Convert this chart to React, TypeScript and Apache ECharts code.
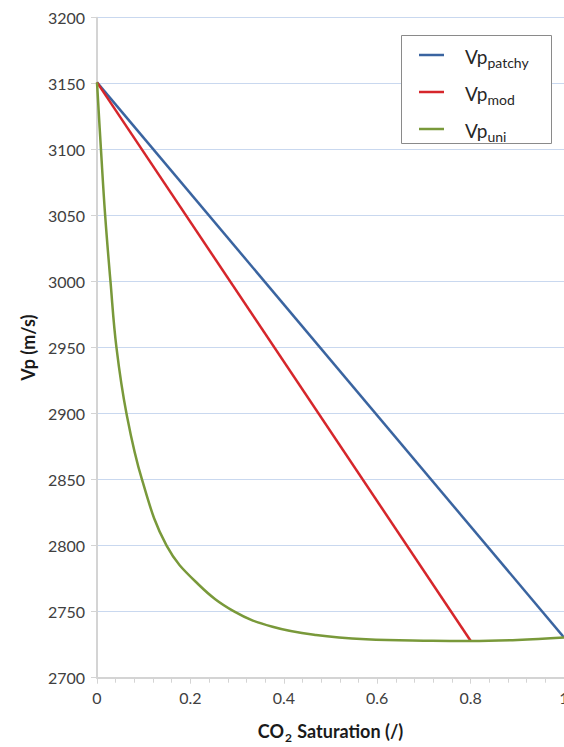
import React, { useEffect, useRef } from "react";
import * as echarts from "echarts";

// CO2 saturation (fraction) and P-wave velocity (m/s)
const satPatchy = [0, 1];
const vpPatchy = [3151, 2730.5];

const satMod = [0, 0.8];
const vpMod = [3151, 2728];

const satUni = [
  0, 0.0085, 0.0175, 0.0289, 0.0417, 0.0632, 0.0964, 0.149, 0.2163,
  0.2944, 0.3758, 0.469, 0.576, 0.718, 0.8, 0.9, 1.0,
];
const vpUni = [
  3151, 3100, 3050, 3000, 2950, 2900, 2850, 2800, 2771,
  2750, 2738.6, 2732.3, 2729.1, 2728, 2727.8, 2728.6, 2730.5,
];

const seriesNames = ["patchy", "mod", "uni"];
const seriesColors = ["#3a64a0", "#d6262b", "#79993a"];

const yTicks = { min: 2700, max: 3200, step: 50 };
const xTicks = { min: 0, max: 1, step: 0.2 };

const FONT = "Lato, 'Open Sans', sans-serif";

const zip = (xs: number[], ys: number[]) => xs.map((x, i) => [x, ys[i]]);

export default function App() {
  const ref = useRef<HTMLDivElement>(null);

  useEffect(() => {
    if (!ref.current) return;
    const chart = echarts.init(ref.current, undefined, { renderer: "svg" });
    const datasets = [zip(satPatchy, vpPatchy), zip(satMod, vpMod), zip(satUni, vpUni)];

    chart.setOption({
      animation: false,
      backgroundColor: "#ffffff",
      textStyle: { fontFamily: FONT },
      grid: {
        left: 97,
        right: 0,
        top: 17.7,
        bottom: 69.3,
        containLabel: false,
        outerBoundsMode: "none",
      },
      xAxis: {
        type: "value",
        min: xTicks.min,
        max: xTicks.max,
        interval: xTicks.step,
        name: "{m|CO}{s|2}{m| Saturation (/)}",
        nameLocation: "middle",
        nameGap: 40,
        nameTextStyle: {
          rich: {
            m: { fontSize: 18, fontWeight: "bold", color: "#1a1a1a", fontFamily: FONT, lineHeight: 22, verticalAlign: "bottom" },
            s: { fontSize: 12, fontWeight: "bold", color: "#1a1a1a", fontFamily: FONT, lineHeight: 14, verticalAlign: "bottom", padding: [0, 1, -4, 1] },
          },
        },
        axisLine: { show: true, lineStyle: { color: "#d4d4d4", width: 2 } },
        axisTick: { show: true, length: 6, lineStyle: { color: "#d4d4d4", width: 1 } },
        minorTick: { show: true, splitNumber: 5, length: 5, lineStyle: { color: "#d4d4d4", width: 1 } },
        axisLabel: {
          color: "#404040",
          fontSize: 16,
          margin: 12,
          fontFamily: FONT,
          showMaxLabel: true,
          formatter: (v: number) => String(Math.round(v * 10) / 10),
        },
        splitLine: { show: false },
      },
      yAxis: {
        type: "value",
        min: yTicks.min,
        max: yTicks.max,
        interval: yTicks.step,
        name: "Vp (m/s)",
        nameLocation: "middle",
        nameGap: 57,
        nameTextStyle: { fontSize: 18, fontWeight: "bold", color: "#1a1a1a", fontFamily: FONT },
        axisLine: { show: true, lineStyle: { color: "#d4d4d4", width: 2 } },
        axisTick: { show: true, length: 6, lineStyle: { color: "#d4d4d4", width: 1 } },
        axisLabel: {
          color: "#404040",
          fontSize: 16,
          margin: 12,
          fontFamily: FONT,
          formatter: (v: number) => String(v),
        },
        splitLine: { show: true, lineStyle: { color: "#c9d8ef", width: 1 } },
      },
      graphic: [
        {
          type: "rect",
          z: 5,
          shape: { x: 401.5, y: 35.5, width: 150, height: 108 },
          style: { fill: "#ffffff", stroke: "#8a8a8a", lineWidth: 1 },
        },
      ],
      legend: {
        show: true,
        z: 10,
        left: 414,
        top: 42,
        orient: "vertical",
        itemWidth: 25,
        itemHeight: 20,
        itemGap: 15,
        icon: "path://M0,0 L25,0 L25,2.5 L0,2.5 Z",
        data: seriesNames.map((n) => ({ name: n })),
        formatter: (name: string) => `{v|Vp}{s|${name}}`,
        textStyle: {
          rich: {
            v: { fontSize: 19, color: "#262626", fontFamily: FONT, lineHeight: 22, verticalAlign: "bottom", padding: [0, 0, 0, 16] },
            s: { fontSize: 14, color: "#262626", fontFamily: FONT, lineHeight: 14, verticalAlign: "bottom", padding: [0, 0, -3, 0] },
          },
        },
      },
      series: seriesNames.map((n, i) => ({
        name: n,
        type: "line",
        data: datasets[i],
        showSymbol: false,
        symbol: "none",
        smooth: i === 2 ? 0.4 : false,
        lineStyle: { color: seriesColors[i], width: 2.5 },
        itemStyle: { color: seriesColors[i] },
        clip: false,
      })),
    });

    return () => chart.dispose();
  }, []);

  return (
    <div
      ref={ref}
      style={{ position: "absolute", left: 0, top: 0, width: 564, height: 747 }}
    />
  );
}
